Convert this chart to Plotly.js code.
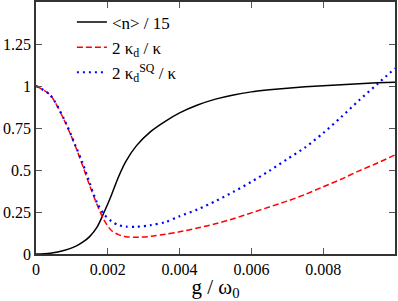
<!DOCTYPE html>
<html>
<head>
<meta charset="utf-8">
<script src="https://cdn.plot.ly/plotly-3.0.1.min.js"></script>
<style>html,body{margin:0;padding:0;background:#fff;}#chart{width:398px;height:301px;}</style>
</head>
<body>
<div id="chart"></div>
<script>
const g = [0, 0.0004, 0.0008, 0.0011, 0.0013, 0.0015, 0.0017, 0.0019, 0.0021, 0.0023, 0.0025, 0.0028, 0.0032, 0.0036, 0.004, 0.0045, 0.005, 0.0055, 0.006, 0.0065, 0.007, 0.0075, 0.008, 0.0085, 0.009, 0.0095, 0.01];
const nOver15 = [0, 0.005, 0.022, 0.045, 0.07, 0.105, 0.16, 0.25, 0.35, 0.46, 0.55, 0.645, 0.73, 0.79, 0.84, 0.887, 0.922, 0.947, 0.965, 0.977, 0.987, 0.995, 1.002, 1.008, 1.014, 1.019, 1.023];
const kappaD = [1, 0.945, 0.79, 0.64, 0.525, 0.405, 0.295, 0.20, 0.14, 0.115, 0.103, 0.10, 0.105, 0.118, 0.132, 0.155, 0.18, 0.21, 0.245, 0.28, 0.315, 0.355, 0.40, 0.445, 0.495, 0.54, 0.59];
const kappaSQ = [1, 0.945, 0.795, 0.645, 0.54, 0.42, 0.305, 0.235, 0.195, 0.172, 0.163, 0.162, 0.172, 0.19, 0.225, 0.265, 0.315, 0.37, 0.43, 0.495, 0.565, 0.635, 0.72, 0.815, 0.915, 1.01, 1.105];
const names = ['&lt;n&gt; / 15', '2 κ<sub>d</sub> / κ', '2 κ<sub>d</sub><sup>SQ</sup> / κ'];
const xTicks = [0, 0.002, 0.004, 0.006, 0.008];
const xTickText = ['0', '0.002', '0.004', '0.006', '0.008'];
const yTicks = [0, 0.25, 0.5, 0.75, 1, 1.25];
const yTickText = ['0', '0.25', '0.5', '0.75', '1', '1.25'];

const traces = [
  {x: g, y: nOver15, name: names[0], mode: 'lines', line: {color: '#000', width: 1.5, shape: 'spline', smoothing: 0.9}},
  {x: g, y: kappaD, name: names[1], mode: 'lines', line: {color: '#ff0000', width: 1.5, dash: '6px,3px', shape: 'spline', smoothing: 0.8}},
  {x: g, y: kappaSQ, name: names[2], mode: 'lines', line: {color: '#0000ff', width: 2.2, dash: '2px,4px', shape: 'spline', smoothing: 0.8}}
];
const layout = {
  width: 398, height: 301,
  font: {family: 'Liberation Serif', color: 'black'},
  margin: {l: 36, r: 2.5, t: 2, b: 47},
  showlegend: true,
  legend: {x: 0.1, y: 0.99, xanchor: 'left', yanchor: 'top', bgcolor: 'rgba(0,0,0,0)',
           font: {family: 'Liberation Serif', size: 17}},
  xaxis: {range: [0, 0.01], tickvals: xTicks, ticktext: xTickText,
          showgrid: false, zeroline: false, showline: true, linecolor: '#333', linewidth: 1.5,
          mirror: 'ticks', ticks: 'inside', ticklen: 6, tickcolor: '#555', tickwidth: 1,
          tickfont: {family: 'Liberation Serif', size: 16},
          title: {text: 'g / ω<sub>0</sub>', font: {family: 'Liberation Serif', size: 21}, standoff: 2}},
  yaxis: {range: [0, 1.5], tickvals: yTicks, ticktext: yTickText,
          showgrid: false, zeroline: false, showline: true, linecolor: '#333', linewidth: 1.5,
          mirror: 'ticks', ticks: 'inside', ticklen: 6, tickcolor: '#555', tickwidth: 1,
          tickfont: {family: 'Liberation Serif', size: 16}}
};
Plotly.newPlot('chart', traces, layout, {displayModeBar: false});
</script>
</body>
</html>
